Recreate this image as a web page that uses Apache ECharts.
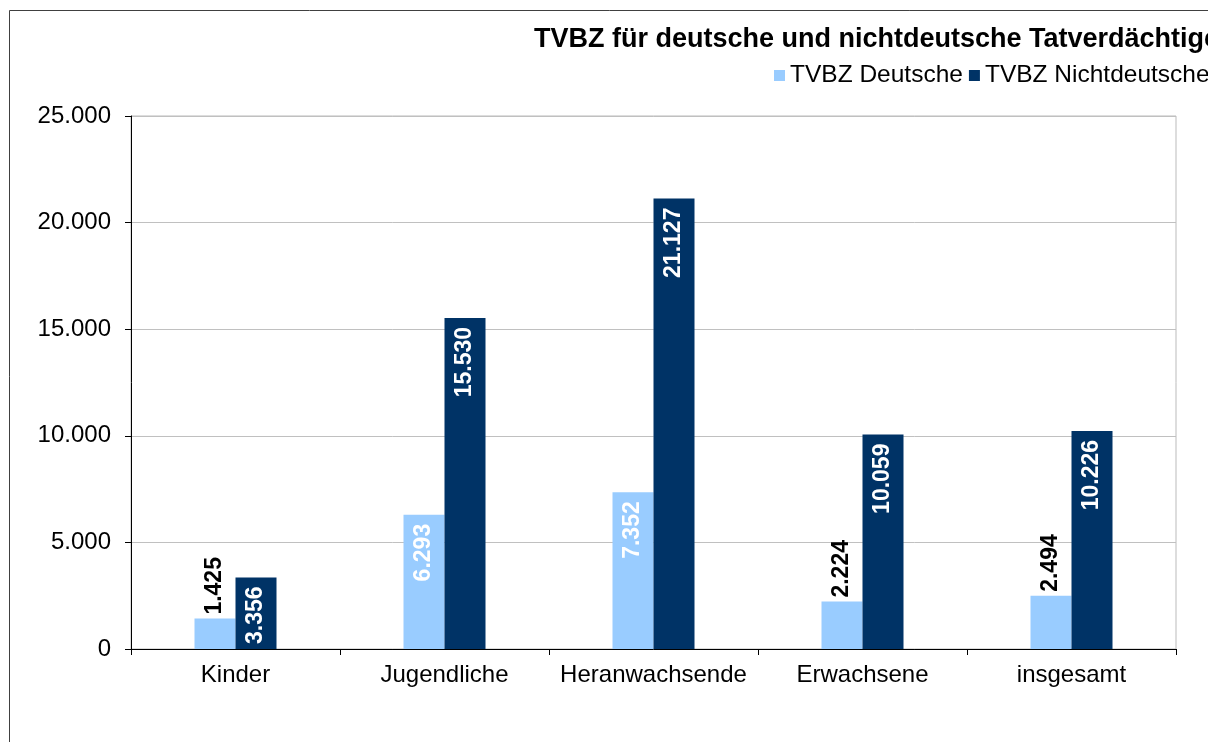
<!DOCTYPE html>
<html>
<head>
<meta charset="utf-8">
<script src="https://cdn.jsdelivr.net/npm/echarts@6/dist/echarts.min.js"></script>
<style>
  html, body { margin: 0; padding: 0; background: #fff; }
  #chart { width: 1208px; height: 742px; }
</style>
</head>
<body>
<div id="chart"></div>
<script>
// data
var categories = ['Kinder', 'Jugendliche', 'Heranwachsende', 'Erwachsene', 'insgesamt'];
var deutsche = [1425, 6293, 7352, 2224, 2494];
var nichtdeutsche = [3356, 15530, 21127, 10059, 10226];
var seriesNames = ['TVBZ Deutsche', 'TVBZ Nichtdeutsche'];

var FONT = '"Liberation Sans", Arial, sans-serif';

function fmt(v) {
    // german thousands separator
    return String(v).replace(/\B(?=(\d{3})+(?!\d))/g, '.');
}

var insideLabel = {
    show: true,
    position: 'insideTop',
    rotate: 90,
    align: 'right',
    verticalAlign: 'middle',
    distance: 9,
    color: '#fff',
    fontFamily: FONT,
    fontSize: 23,
    fontWeight: 'bold',
    formatter: function (p) { return fmt(p.value); }
};
var outsideLabel = {
    show: true,
    position: 'top',
    rotate: 90,
    align: 'left',
    verticalAlign: 'middle',
    distance: 4,
    color: '#000',
    fontFamily: FONT,
    fontSize: 23,
    fontWeight: 'bold',
    formatter: function (p) { return fmt(p.value); }
};

// short bars get the label above the bar
function buildData(arr) {
    return arr.map(function (v) {
        return { value: v, label: v > 3000 ? insideLabel : outsideLabel };
    });
}

var chart = echarts.init(document.getElementById('chart'));

var option = {
    animation: false,
    backgroundColor: '#fff',
    textStyle: { fontFamily: FONT },
    color: ['#99CCFF', '#003366'],
    title: {
        text: 'TVBZ für deutsche und nichtdeutsche Tatverdächtige',
        left: 529,
        top: 21,
        textStyle: { fontFamily: FONT, fontSize: 27, fontWeight: 'bold', color: '#000' }
    },
    legend: {
        left: 769,
        top: 58,
        width: 700,
        itemWidth: 11,
        itemHeight: 11,
        itemGap: 6,
        icon: 'rect',
        data: seriesNames,
        textStyle: { fontFamily: FONT, fontSize: 24.5, color: '#000' }
    },
    graphic: [{
        type: 'rect',
        shape: { x: 9.5, y: 10.5, width: 1400, height: 900 },
        style: { fill: null, stroke: '#404040', lineWidth: 1 },
        silent: true
    }],
    grid: {
        left: 131,
        right: 32,
        top: 116,
        bottom: 93,
        show: true,
        borderColor: '#bbbbbb',
        borderWidth: 1
    },
    xAxis: {
        type: 'category',
        data: categories,
        axisLine: { lineStyle: { color: '#000' } },
        axisTick: { show: true, length: 6, lineStyle: { color: '#000' } },
        axisLabel: { interval: 0, fontFamily: FONT, fontSize: 24, color: '#000', margin: 14 }
    },
    yAxis: {
        type: 'value',
        min: 0,
        max: 25000,
        interval: 5000,
        axisLine: { show: true, lineStyle: { color: '#000' } },
        axisTick: { show: true, length: 6, lineStyle: { color: '#000' } },
        splitLine: { lineStyle: { color: '#c0c0c0' } },
        axisLabel: {
            fontFamily: FONT, fontSize: 24, color: '#000', margin: 20,
            formatter: function (v) { return fmt(v); }
        }
    },
    series: [
        {
            name: seriesNames[0],
            type: 'bar',
            barWidth: 41,
            barGap: '0%',
            data: buildData(deutsche)
        },
        {
            name: seriesNames[1],
            type: 'bar',
            barWidth: 41,
            barGap: '0%',
            data: buildData(nichtdeutsche)
        }
    ]
};

chart.setOption(option);
</script>
</body>
</html>
